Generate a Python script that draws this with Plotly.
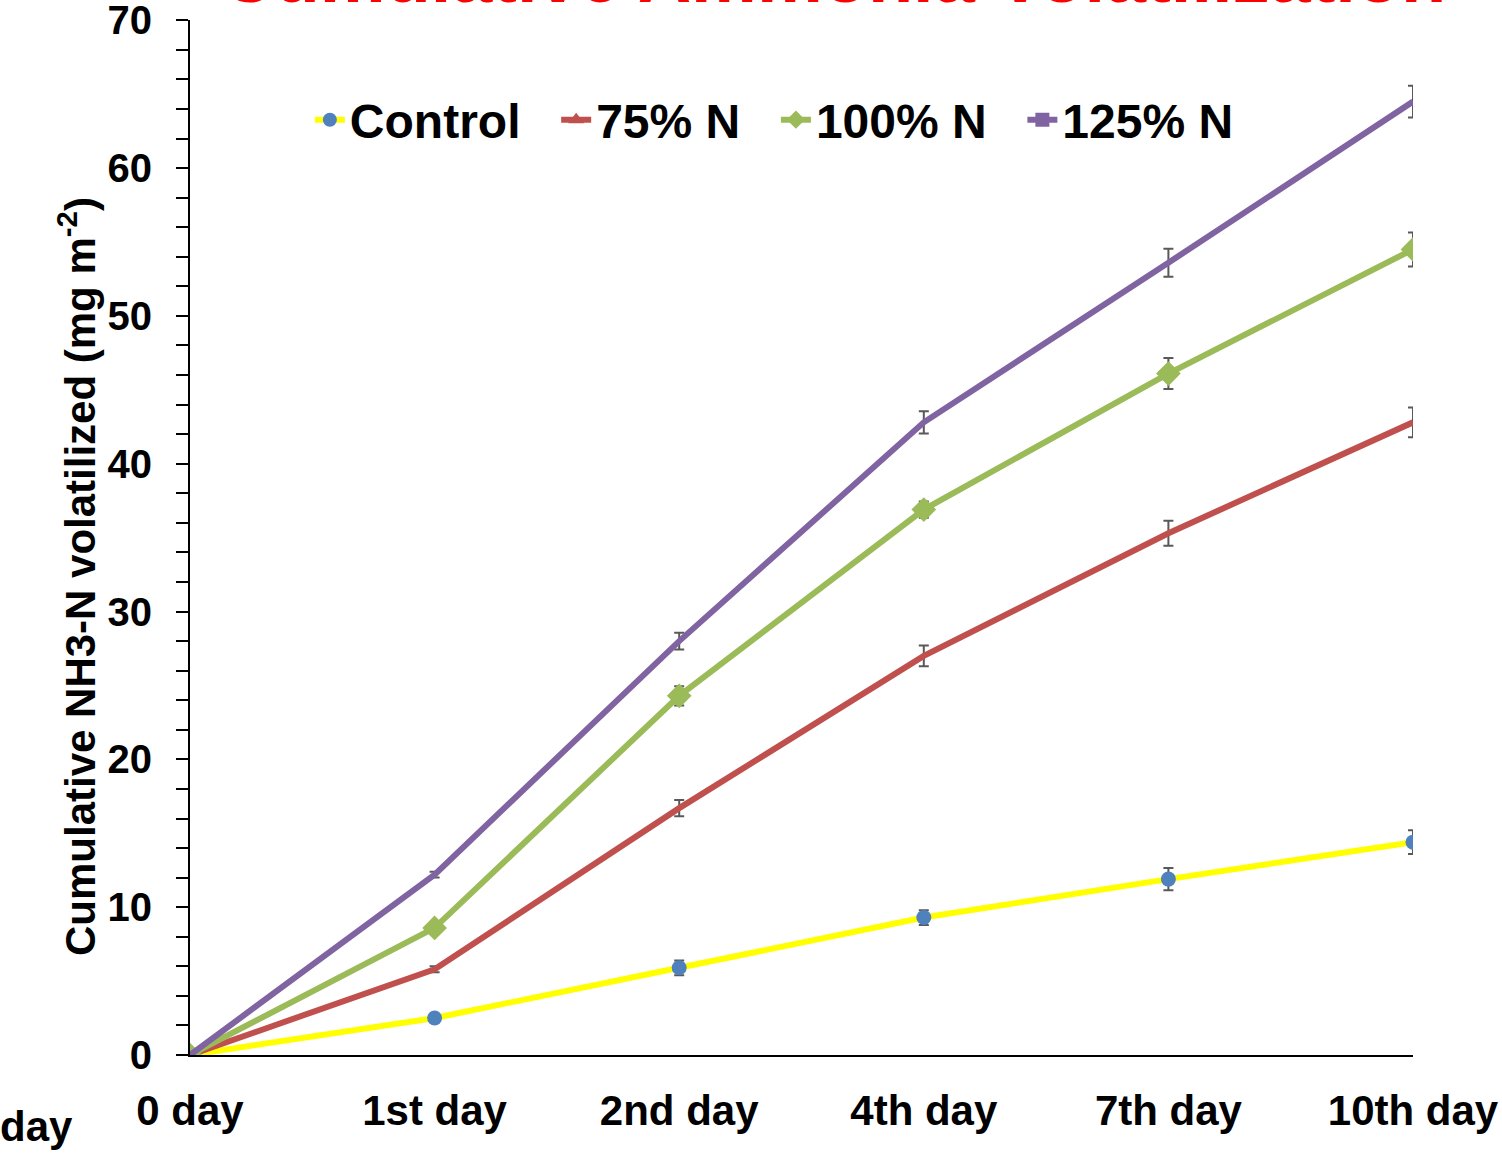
import plotly.graph_objects as go

days = ["0 day", "1st day", "2nd day", "4th day", "7th day", "10th day"]
control = [0, 2.5, 5.9, 9.3, 11.9, 14.4]
n75 = [0, 5.8, 16.7, 27.0, 35.3, 42.8]
n100 = [0, 8.6, 24.3, 36.9, 46.1, 54.5]
n125 = [0, 12.2, 28.0, 42.8, 53.6, 64.5]
err_control = [0, 0.2, 0.5, 0.5, 0.75, 0.8]
err_n75 = [0, 0.2, 0.55, 0.7, 0.85, 1.0]
err_n100 = [0, 0.3, 0.65, 0.55, 1.05, 1.15]
err_n125 = [0, 0.2, 0.57, 0.75, 0.95, 1.08]
y_ticks = [0, 10, 20, 30, 40, 50, 60, 70]

FONT = "Arial, Liberation Sans, sans-serif"
ERRC = "#595959"
x = list(range(len(days)))

fig = go.Figure()

def err(e):
    return dict(type="data", array=e, visible=True, color=ERRC, thickness=2, width=5)

fig.add_trace(go.Scatter(x=x, y=control, mode="lines+markers", showlegend=False,
                         line=dict(color="#FFFF00", width=6),
                         marker=dict(color="#4F81BD", size=15, symbol="circle"),
                         error_y=err(err_control)))
fig.add_trace(go.Scatter(x=x, y=n75, mode="lines", showlegend=False,
                         line=dict(color="#C0504D", width=6),
                         error_y=err(err_n75)))
fig.add_trace(go.Scatter(x=x, y=n100, mode="lines+markers", showlegend=False,
                         line=dict(color="#9BBB59", width=6),
                         marker=dict(color="#9BBB59", size=19, symbol="diamond"),
                         error_y=err(err_n100)))
fig.add_trace(go.Scatter(x=x, y=n125, mode="lines", showlegend=False,
                         line=dict(color="#8064A2", width=6),
                         error_y=err(err_n125)))

# legend entries
NB = "\u00a0\u00a0\u200a"
legend_specs = [
    ("Control" + NB, "#FFFF00", "#4F81BD", "circle"),
    ("75% N" + NB, "#C0504D", "#C0504D", "triangle-up"),
    ("100% N" + NB, "#9BBB59", "#9BBB59", "diamond"),
    ("125% N", "#8064A2", "#8064A2", "square"),
]
for name, lc, mc, sym in legend_specs:
    fig.add_trace(go.Scatter(x=[None], y=[None], mode="lines+markers", name=name,
                             line=dict(color=lc, width=6),
                             marker=dict(color=mc, size=14, symbol=sym)))

fig.update_layout(
    width=1502, height=1158,
    margin=dict(l=190, r=89, t=20, b=103, autoexpand=False),
    paper_bgcolor="white", plot_bgcolor="white",
    font=dict(family=FONT, color="black"),
    showlegend=True,
    legend=dict(orientation="h", x=0.098, y=(1055 - 120) / 1035, xanchor="left", yanchor="middle",
                font=dict(size=48, family=FONT, color="black", weight="bold"),
                bgcolor="rgba(0,0,0,0)"),
    xaxis=dict(range=[0, 5], tickmode="array", tickvals=x, ticktext=days,
               showline=True, linecolor="black", linewidth=2, ticks="",
               showgrid=False, zeroline=False, automargin=False,
               ticklabeloverflow="allow",
               tickfont=dict(size=42, family=FONT, color="black", weight="bold"),
               ticklabelstandoff=18),
    yaxis=dict(range=[0, 70.02], tickmode="array", tickvals=y_ticks,
               showline=True, linecolor="black", linewidth=2,
               ticks="outside", ticklen=12, tickwidth=2, tickcolor="black",
               minor=dict(dtick=2, ticks="outside", ticklen=12, tickwidth=2, tickcolor="black"),
               showgrid=False, zeroline=False, automargin=False,
               ticklabeloverflow="allow",
               tickfont=dict(size=40, family=FONT, color="black", weight="bold"),
               ticklabelstandoff=16),
)

fig.add_annotation(text="Cumulative NH3-N volatilized (mg m<sup>-2</sup>)",
                   xref="paper", yref="paper", x=(77 - 190) / 1223, y=(1055 - 577) / 1035,
                   xanchor="center", yanchor="middle", textangle=-90, showarrow=False,
                   font=dict(size=42, family=FONT, color="black", weight="bold"))

fig.add_annotation(text="Cumulative Ammonia Volatilization",
                   xref="paper", yref="paper", x=(833 - 190) / 1223, y=1.0,
                   xanchor="center", yanchor="bottom", showarrow=False,
                   font=dict(size=74, family=FONT, color="#FF0000", weight="bold"))

fig.add_annotation(text="day",
                   xref="paper", yref="paper", x=(-2 - 190) / 1223, y=(1055 - 1126) / 1035,
                   xanchor="left", yanchor="middle", showarrow=False,
                   font=dict(size=42, family=FONT, color="black", weight="bold"))

fig.write_html("out.html", config={"displayModeBar": False},
               post_script="document.body.style.margin='0';")
